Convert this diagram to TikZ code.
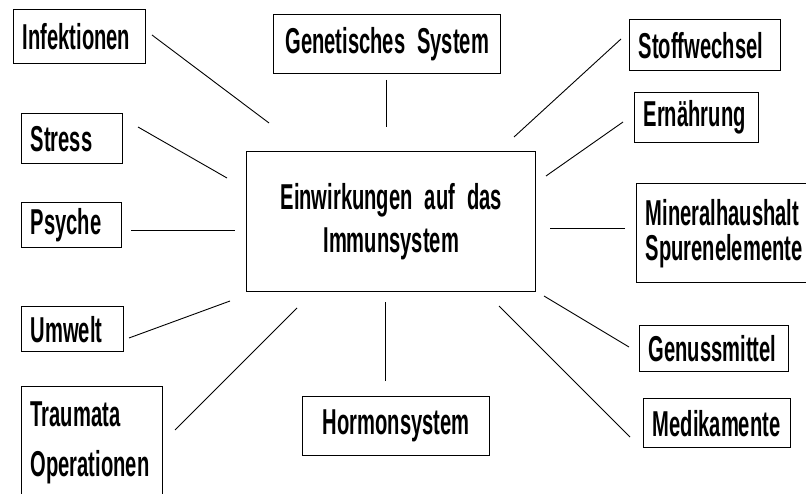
\documentclass[tikz,border=0pt]{standalone}
\usepackage{fontspec}
\setmainfont[FakeStretch=0.56]{Liberation Sans}
\begin{document}
\begin{tikzpicture}[x=1pt,y=-1pt,
  box/.style={draw,line width=1.4pt,anchor=north west,inner xsep=9pt,inner ysep=0pt,
    align=left,font=\bfseries\fontsize{36}{43}\selectfont},
  link/.style={line width=0.9pt}]
  \useasboundingbox[fill=white] (0,0) rectangle (806,494);
  % boxes, left column
  \node[box,text width=114pt,minimum height=54pt] (infekt) at (13,9) {Infektionen};
  \node[box,text width=83pt,minimum height=50pt] (stress) at (21,113) {Stress};
  \node[box,text width=82pt,minimum height=45pt] (psyche) at (21,202) {Psyche};
  \node[box,text width=84pt,minimum height=45pt] (umwelt) at (21,306) {Umwelt};
  \node[box,text width=123pt,minimum height=112pt] (trauma) at (21,386) {Traumata\\[7pt]Operationen};
  % middle
  \node[box,align=center,text width=209pt,minimum height=59pt] (genet) at (273,14) {Genetisches System};
  \node[box,align=center,text width=271pt,minimum height=140pt] (immun) at (246,151)
    {Einwirkungen auf das\\Immunsystem};
  \node[box,align=center,text width=169pt,minimum height=59pt] (hormon) at (302,396) {Hormonsystem};
  % boxes, right column
  \node[box,text width=133pt,minimum height=51pt] (stoff) at (629,19) {Stoffwechsel};
  \node[box,text width=106pt,minimum height=50pt] (ernaehr) at (634,92) {Ernährung};
  \node[box,text width=166pt,minimum height=99pt] (mineral) at (636,183) {Mineralhaushalt\\[-8pt]Spurenelemente};
  \node[box,text width=131pt,minimum height=46pt] (genuss) at (639,325) {Genussmittel};
  \node[box,text width=129pt,minimum height=49pt] (medik) at (643,398) {Medikamente};
  % free line ends
  \coordinate (infekt-a) at (152,35);  \coordinate (infekt-b) at (269,123);
  \coordinate (stress-a) at (138,127); \coordinate (stress-b) at (227,178);
  \coordinate (psyche-a) at (131,230); \coordinate (psyche-b) at (235,230);
  \coordinate (umwelt-a) at (129,338); \coordinate (umwelt-b) at (230,301);
  \coordinate (trauma-a) at (175,430); \coordinate (trauma-b) at (297,308);
  \coordinate (genet-a) at (386,80);   \coordinate (genet-b) at (386,127);
  \coordinate (hormon-a) at (385,381); \coordinate (hormon-b) at (385,302);
  \coordinate (stoff-a) at (621,39);   \coordinate (stoff-b) at (514,137);
  \coordinate (ernaehr-a) at (623,122); \coordinate (ernaehr-b) at (546,176);
  \coordinate (mineral-a) at (625,228); \coordinate (mineral-b) at (550,228);
  \coordinate (genuss-a) at (629,347); \coordinate (genuss-b) at (544,296);
  \coordinate (medik-a) at (630,437);  \coordinate (medik-b) at (499,306);
  % connectors
  \draw[link] (infekt-a) -- (infekt-b);
  \draw[link] (stress-a) -- (stress-b);
  \draw[link] (psyche-a) -- (psyche-b);
  \draw[link] (umwelt-a) -- (umwelt-b);
  \draw[link] (trauma-a) -- (trauma-b);
  \draw[link] (genet-a) -- (genet-b);
  \draw[link] (hormon-a) -- (hormon-b);
  \draw[link] (stoff-a) -- (stoff-b);
  \draw[link] (ernaehr-a) -- (ernaehr-b);
  \draw[link] (mineral-a) -- (mineral-b);
  \draw[link] (genuss-a) -- (genuss-b);
  \draw[link] (medik-a) -- (medik-b);
\end{tikzpicture}
\end{document}
